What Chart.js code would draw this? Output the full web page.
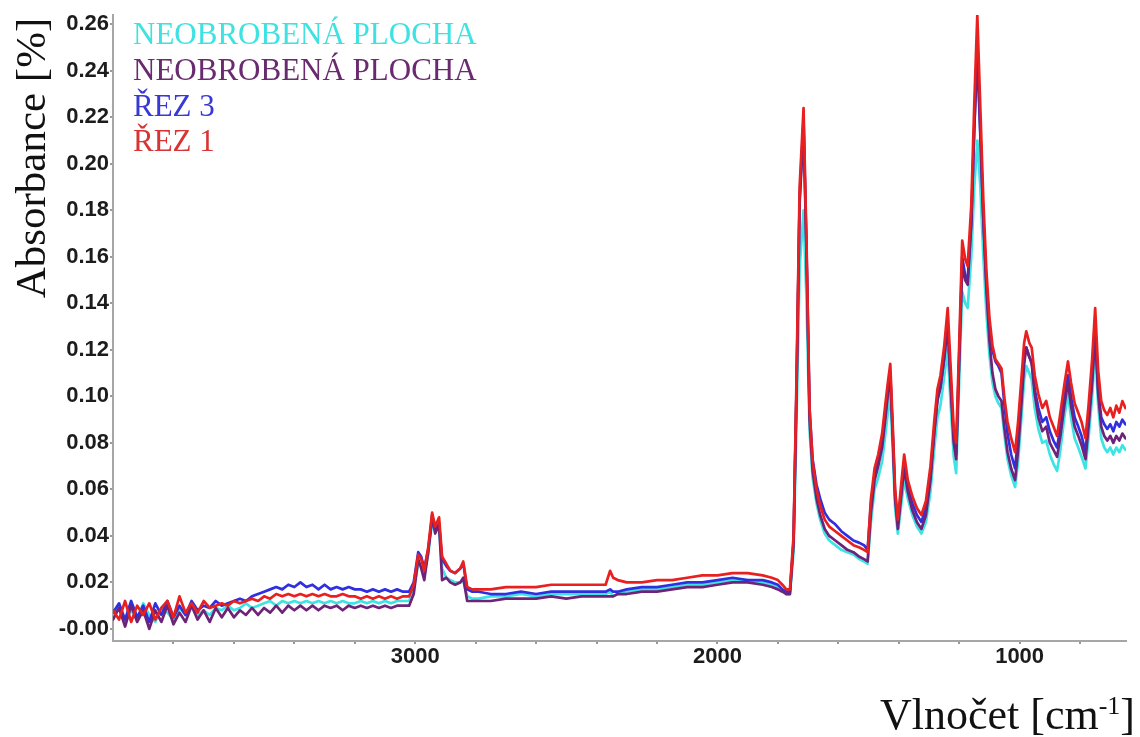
<!DOCTYPE html>
<html>
<head>
<meta charset="utf-8">
<script src="https://cdn.jsdelivr.net/npm/chart.js@4.4.1/dist/chart.umd.min.js"></script>
<style>
  html, body { margin: 0; padding: 0; background: #ffffff; }
  canvas { display: block; }
</style>
</head>
<body>
<canvas id="spectrum" width="1140" height="737"></canvas>
<script>
// Wavenumbers (cm-1), shared by all four spectra
const wavenumbers = [
  4000,3980,3960,3940,3920,3900,3880,3860,3840,3820,3800,3780,3760,3740,3720,3700,3680,3660,3640,3620,
  3600,3580,3560,3540,3520,3500,3480,3460,3440,3420,3400,3380,3360,3340,3320,3300,3280,3260,3240,3220,
  3200,3180,3160,3140,3120,3100,3080,3060,3040,
  3020,3005,2990,2980,2970,2957,2944,2934,2921,2911,2897,2884,2868,2851,2841,2828,2811,2790,
  2750,2700,2650,2600,2550,2500,2450,2400,2370,2355,2345,2330,2300,2250,2200,2150,2100,2050,2000,1950,
  1900,1850,1820,1800,1785,1772,
  1760,1748,1738,1728,1715,1705,1695,1685,1672,1660,
  1645,1630,1610,1590,1570,1550,1530,1515,1503,1492,
  1480,1468,1455,1444,1436,1428,1420,1412,1403,1392,
  1382,1370,1355,1340,1325,1310,1295,1282,1272,1262,
  1250,1238,1228,1218,1210,1200,1190,1180,1172,1160,
  1150,1140,1130,1120,1110,1100,1090,1080,1070,1060,
  1050,1040,1028,1015,1005,995,985,978,968,960,
  950,938,925,912,900,888,876,865,852,840,
  830,818,806,795,782,772,760,750,740,730,
  720,710,700,690,680,670,660,650
];

// Absorbance: untreated surface (cyan trace)
const cyanSeries = [
  0.006,0.010,0.003,0.008,0.004,0.011,0.006,0.003,0.009,0.007,0.004,0.009,0.006,0.010,0.006,0.008,0.006,0.009,0.008,0.010,
  0.008,0.009,0.011,0.009,0.010,0.011,0.012,0.010,0.012,0.011,0.012,0.011,0.012,0.011,0.012,0.011,0.012,0.011,0.012,0.011,
  0.011,0.012,0.011,0.012,0.011,0.012,0.011,0.012,0.012,
  0.012,0.017,0.028,0.027,0.024,0.032,0.046,0.042,0.043,0.026,0.022,0.021,0.020,0.020,0.021,0.014,0.013,0.013,
  0.014,0.014,0.015,0.014,0.015,0.015,0.015,0.015,0.015,0.016,0.014,0.015,0.016,0.017,0.017,0.018,0.019,0.019,0.020,0.021,
  0.021,0.020,0.019,0.018,0.017,0.015,
  0.015,0.033,0.090,0.155,0.180,0.140,0.085,0.065,0.054,0.047,
  0.041,0.038,0.036,0.034,0.033,0.032,0.030,0.029,0.028,0.046,
  0.060,0.065,0.072,0.084,0.093,0.101,0.077,0.052,0.041,0.053,
  0.064,0.056,0.049,0.044,0.041,0.046,0.059,0.078,0.091,0.096,
  0.108,0.120,0.096,0.074,0.067,0.106,0.145,0.140,0.138,0.160,
  0.190,0.210,0.190,0.160,0.136,0.118,0.106,0.100,0.097,0.095,
  0.083,0.073,0.066,0.061,0.072,0.089,0.107,0.113,0.110,0.107,
  0.095,0.086,0.080,0.081,0.075,0.071,0.068,0.077,0.091,0.101,
  0.091,0.082,0.078,0.074,0.069,0.082,0.100,0.120,0.096,0.082,
  0.078,0.076,0.078,0.075,0.078,0.076,0.079,0.077
];

// Absorbance: untreated surface (purple trace)
const purpleSeries = [
  0.004,0.009,0.001,0.010,0.003,0.008,0.000,0.008,0.003,0.010,0.002,0.007,0.003,0.010,0.004,0.008,0.003,0.009,0.005,0.009,
  0.005,0.008,0.006,0.009,0.006,0.009,0.007,0.010,0.007,0.010,0.008,0.010,0.008,0.010,0.008,0.010,0.009,0.010,0.008,0.010,
  0.009,0.010,0.009,0.010,0.009,0.010,0.009,0.010,0.010,
  0.010,0.015,0.030,0.026,0.021,0.033,0.049,0.041,0.045,0.021,0.022,0.020,0.019,0.020,0.022,0.012,0.012,0.012,
  0.012,0.013,0.013,0.013,0.014,0.013,0.014,0.014,0.014,0.014,0.014,0.015,0.015,0.016,0.016,0.017,0.018,0.018,0.019,0.020,
  0.020,0.019,0.018,0.017,0.016,0.015,
  0.015,0.037,0.104,0.183,0.216,0.160,0.090,0.068,0.056,0.049,
  0.043,0.040,0.038,0.036,0.034,0.033,0.031,0.030,0.029,0.050,
  0.064,0.070,0.078,0.091,0.101,0.110,0.083,0.056,0.043,0.057,
  0.069,0.059,0.051,0.046,0.043,0.049,0.064,0.085,0.098,0.104,
  0.116,0.131,0.104,0.080,0.073,0.115,0.156,0.150,0.148,0.174,
  0.216,0.250,0.214,0.176,0.146,0.124,0.110,0.103,0.100,0.098,
  0.086,0.076,0.069,0.064,0.077,0.095,0.114,0.121,0.117,0.114,
  0.101,0.091,0.085,0.087,0.080,0.077,0.074,0.083,0.096,0.106,
  0.096,0.087,0.083,0.079,0.073,0.087,0.106,0.129,0.101,0.087,
  0.083,0.081,0.083,0.080,0.083,0.081,0.084,0.082
];

// Absorbance: cut 3
const blueSeries = [
  0.007,0.011,0.004,0.012,0.005,0.010,0.003,0.011,0.006,0.012,0.005,0.010,0.006,0.012,0.008,0.010,0.009,0.012,0.010,0.011,
  0.012,0.013,0.012,0.014,0.015,0.016,0.017,0.018,0.017,0.019,0.018,0.020,0.018,0.019,0.017,0.019,0.017,0.018,0.017,0.018,
  0.017,0.017,0.016,0.017,0.016,0.017,0.016,0.017,0.016,
  0.016,0.020,0.033,0.031,0.026,0.034,0.047,0.043,0.045,0.030,0.027,0.025,0.024,0.026,0.028,0.017,0.016,0.016,
  0.015,0.015,0.016,0.015,0.016,0.016,0.016,0.016,0.016,0.017,0.016,0.016,0.017,0.018,0.018,0.019,0.020,0.020,0.021,0.022,
  0.021,0.021,0.020,0.019,0.017,0.016,
  0.016,0.038,0.105,0.185,0.219,0.162,0.094,0.073,0.062,0.056,
  0.050,0.047,0.045,0.042,0.040,0.038,0.037,0.036,0.034,0.054,
  0.066,0.072,0.080,0.093,0.102,0.109,0.085,0.058,0.045,0.059,
  0.071,0.061,0.054,0.049,0.046,0.052,0.066,0.086,0.099,0.104,
  0.116,0.130,0.106,0.082,0.075,0.117,0.160,0.152,0.150,0.175,
  0.215,0.247,0.212,0.176,0.149,0.130,0.120,0.115,0.113,0.110,
  0.096,0.084,0.075,0.069,0.082,0.099,0.116,0.121,0.117,0.115,
  0.103,0.095,0.089,0.091,0.085,0.081,0.078,0.087,0.099,0.109,
  0.100,0.091,0.087,0.083,0.076,0.090,0.108,0.126,0.103,0.091,
  0.088,0.086,0.088,0.085,0.089,0.087,0.090,0.088
];

// Absorbance: cut 1
const redSeries = [
  0.008,0.004,0.012,0.003,0.010,0.006,0.011,0.004,0.009,0.012,0.005,0.014,0.007,0.011,0.007,0.012,0.009,0.010,0.011,0.010,
  0.012,0.011,0.012,0.013,0.012,0.014,0.013,0.015,0.014,0.015,0.014,0.015,0.014,0.015,0.014,0.015,0.014,0.014,0.015,0.014,
  0.014,0.013,0.014,0.013,0.014,0.013,0.014,0.013,0.014,
  0.014,0.019,0.032,0.030,0.025,0.035,0.050,0.044,0.048,0.031,0.028,0.025,0.024,0.026,0.029,0.018,0.017,0.017,
  0.017,0.018,0.018,0.018,0.019,0.019,0.019,0.019,0.019,0.025,0.022,0.021,0.020,0.020,0.021,0.021,0.022,0.023,0.023,0.024,
  0.024,0.023,0.022,0.021,0.019,0.017,
  0.017,0.040,0.110,0.190,0.224,0.165,0.095,0.072,0.060,0.053,
  0.047,0.044,0.042,0.040,0.038,0.036,0.035,0.034,0.033,0.056,
  0.069,0.075,0.084,0.097,0.106,0.114,0.088,0.060,0.047,0.062,
  0.075,0.064,0.057,0.052,0.049,0.055,0.070,0.090,0.103,0.109,
  0.121,0.138,0.112,0.086,0.080,0.122,0.167,0.159,0.156,0.182,
  0.226,0.264,0.224,0.184,0.154,0.134,0.122,0.116,0.114,0.112,
  0.099,0.089,0.082,0.076,0.089,0.106,0.123,0.128,0.123,0.121,
  0.109,0.101,0.095,0.098,0.091,0.087,0.083,0.093,0.105,0.115,
  0.106,0.097,0.093,0.089,0.082,0.096,0.116,0.138,0.111,0.098,
  0.094,0.092,0.095,0.091,0.096,0.093,0.098,0.095
];

const seriesNames = ['NEOBROBENÁ PLOCHA', 'NEOBROBENÁ PLOCHA', 'ŘEZ 3', 'ŘEZ 1'];
const lineColors = ['#3ee3e3', '#6e2378', '#2f2fe0', '#e8201f'];
const legendColors = ['#3fe2e2', '#6a2a70', '#3838d6', '#d83434'];

const yTickValues = [0, 0.02, 0.04, 0.06, 0.08, 0.10, 0.12, 0.14, 0.16, 0.18, 0.20, 0.22, 0.24, 0.26];
const yTickLabels = ['-0.00', '0.02', '0.04', '0.06', '0.08', '0.10', '0.12', '0.14', '0.16', '0.18', '0.20', '0.22', '0.24', '0.26'];
const xTickValues = [3800, 3600, 3400, 3200, 3000, 2800, 2600, 2400, 2200, 2000, 1800, 1600, 1400, 1200, 1000, 800];
const xTickLabels = { 3000: '3000', 2000: '2000', 1000: '1000' };

const SERIF = '"Liberation Serif", "Times New Roman", serif';
const SANS = '"Liberation Sans", Arial, sans-serif';

function toPoints(values) {
  return values.map((v, i) => ({ x: wavenumbers[i], y: v }));
}

// Axis titles and the coloured sample list, drawn as canvas text
const annotations = {
  id: 'annotations',
  afterDraw(chart) {
    const ctx = chart.ctx;

    ctx.save();
    ctx.fillStyle = '#111111';
    ctx.font = '43px ' + SERIF;
    ctx.textAlign = 'center';
    ctx.textBaseline = 'alphabetic';
    ctx.translate(45, 158);
    ctx.rotate(-Math.PI / 2);
    ctx.fillText('Absorbance [%]', 0, 0);
    ctx.restore();

    ctx.save();
    ctx.fillStyle = '#111111';
    ctx.textBaseline = 'alphabetic';
    const mainFont = '44px ' + SERIF;
    const supFont = '26px ' + SERIF;
    const part1 = 'Vlnočet [cm';
    const sup = '-1';
    const part2 = ']';
    ctx.font = mainFont;
    const w1 = ctx.measureText(part1).width;
    const w3 = ctx.measureText(part2).width;
    ctx.font = supFont;
    const w2 = ctx.measureText(sup).width;
    let x = 1135 - (w1 + w2 + w3);
    const base = 729;
    ctx.font = mainFont;
    ctx.fillText(part1, x, base);
    x += w1;
    ctx.font = supFont;
    ctx.fillText(sup, x, base - 15);
    x += w2;
    ctx.font = mainFont;
    ctx.fillText(part2, x, base);
    ctx.restore();

    ctx.save();
    ctx.font = '31px ' + SERIF;
    ctx.textAlign = 'left';
    ctx.textBaseline = 'alphabetic';
    const baselines = [44, 80, 116, 151];
    seriesNames.forEach((name, i) => {
      ctx.fillStyle = legendColors[i];
      ctx.fillText(name, 133, baselines[i]);
    });
    ctx.restore();
  }
};

const datasetOrder = [3, 1, 2, 0];

new Chart(document.getElementById('spectrum'), {
  type: 'line',
  data: {
    datasets: [cyanSeries, purpleSeries, blueSeries, redSeries].map((vals, i) => ({
      label: seriesNames[i],
      data: toPoints(vals),
      borderColor: lineColors[i],
      backgroundColor: lineColors[i],
      borderWidth: 2.7,
      pointRadius: 0,
      tension: 0,
      fill: false,
      order: datasetOrder[i]
    }))
  },
  options: {
    responsive: false,
    animation: false,
    events: [],
    layout: { padding: { left: 0, right: 14, top: 15, bottom: 0 } },
    plugins: { legend: { display: false }, tooltip: { enabled: false }, title: { display: false } },
    elements: { line: { borderJoinStyle: 'round', borderCapStyle: 'round' } },
    scales: {
      x: {
        type: 'linear',
        reverse: true,
        min: 648,
        max: 4000,
        afterBuildTicks: (s) => { s.ticks = xTickValues.map(v => ({ value: v })); },
        afterFit: (s) => { s.height = 96; },
        ticks: {
          autoSkip: false,
          maxRotation: 0,
          minRotation: 0,
          padding: 0,
          color: '#1c1c1c',
          font: { family: SANS, size: 22, weight: 'bold' },
          callback: (v) => xTickLabels[v] || ''
        },
        grid: { drawOnChartArea: false, drawTicks: true, tickLength: 3, color: '#9a9a9a', lineWidth: 2 },
        border: { display: true, color: '#a6a6a6', width: 2, dash: [3, 1] }
      },
      y: {
        type: 'linear',
        min: -0.0052,
        max: 0.264,
        afterBuildTicks: (s) => { s.ticks = yTickValues.map(v => ({ value: v })); },
        afterFit: (s) => { s.width = 113; },
        ticks: {
          padding: 1,
          color: '#1c1c1c',
          font: { family: SANS, size: 22, weight: 'bold' },
          callback: (v) => {
            const k = yTickValues.findIndex(t => Math.abs(t - v) < 1e-9);
            return k >= 0 ? yTickLabels[k] : '';
          }
        },
        grid: { drawOnChartArea: false, drawTicks: true, tickLength: 3, color: '#9a9a9a', lineWidth: 2 },
        border: { display: true, color: '#a6a6a6', width: 2, dash: [2, 2] }
      }
    }
  },
  plugins: [annotations]
});
</script>
</body>
</html>
